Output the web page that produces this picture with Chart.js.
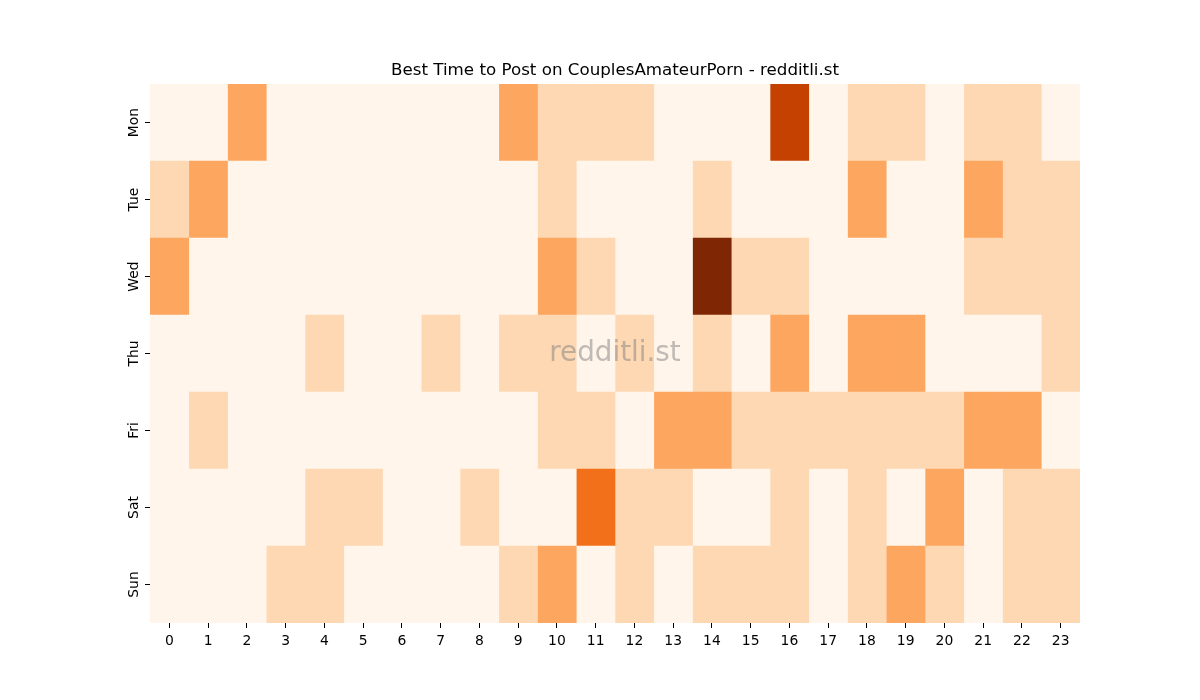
<!DOCTYPE html>
<html>
<head>
<meta charset="utf-8">
<script src="https://cdn.jsdelivr.net/npm/chart.js@4.4.1/dist/chart.umd.min.js"></script>
<style>
  html, body { margin: 0; padding: 0; background: #fff; }
  #wrap { width: 1200px; height: 700px; }
</style>
</head>
<body>
<div id="wrap"><canvas id="heat"></canvas></div>
<script>
// HEATMAP DATA - rows are weekdays, columns are hours
const days = ['Mon', 'Tue', 'Wed', 'Thu', 'Fri', 'Sat', 'Sun'];
const hours = ['0','1','2','3','4','5','6','7','8','9','10','11','12','13','14','15','16','17','18','19','20','21','22','23'];

const mon = [0,0,2,0,0,0,0,0,0,2,1,1,1,0,0,0,4,0,1,1,0,1,1,0];
const tue = [1,2,0,0,0,0,0,0,0,0,1,0,0,0,1,0,0,0,2,0,0,2,1,1];
const wed = [2,0,0,0,0,0,0,0,0,0,2,1,0,0,5,1,1,0,0,0,0,1,1,1];
const thu = [0,0,0,0,1,0,0,1,0,1,1,0,1,0,1,0,2,0,2,2,0,0,0,1];
const fri = [0,1,0,0,0,0,0,0,0,0,1,1,0,2,2,1,1,1,1,1,1,2,2,0];
const sat = [0,0,0,0,1,1,0,0,1,0,0,3,1,1,0,0,1,0,1,0,2,0,1,1];
const sun = [0,0,0,1,1,0,0,0,0,1,2,0,1,0,1,1,1,0,1,2,1,0,1,1];
const grid = [mon, tue, wed, thu, fri, sat, sun];

// oranges colour ramp, one step per count
const shades = ['#fff5eb', '#fdd8b3', '#fda660', '#f3701b', '#c54102', '#7f2704'];

// one floating bar dataset per hour column
const datasets = hours.map((h, col) => ({
    label: h,
    data: days.map(() => [col, col + 1]),
    backgroundColor: grid.map(row => shades[row[col]]),
    borderWidth: 0,
    barPercentage: 1,
    categoryPercentage: 1,
    grouped: false
}));

// watermark + rotated weekday labels
const extras = {
    id: 'extras',
    afterDraw(chart) {
        const ctx = chart.ctx;
        const area = chart.chartArea;
        const y = chart.scales.y;
        ctx.save();
        ctx.font = '13.9px "DejaVu Sans"';
        ctx.fillStyle = '#000';
        ctx.textAlign = 'center';
        ctx.textBaseline = 'bottom';
        days.forEach((d, i) => {
            const py = y.getPixelForValue(i);
            ctx.save();
            ctx.translate(area.left - 9, py);
            ctx.rotate(-Math.PI / 2);
            ctx.fillText(d, 0, 0);
            ctx.restore();
        });
        ctx.font = '27.8px "DejaVu Sans"';
        ctx.fillStyle = 'rgba(128,128,128,0.5)';
        ctx.textBaseline = 'middle';
        ctx.fillText('redditli.st', (area.left + area.right) / 2, (area.top + area.bottom) / 2);
        ctx.restore();
    }
};

new Chart(document.getElementById('heat'), {
    type: 'bar',
    data: { labels: days, datasets: datasets },
    plugins: [extras],
    options: {
        indexAxis: 'y',
        responsive: true,
        maintainAspectRatio: false,
        animation: false,
        layout: { padding: { left: 0, right: 120, top: 0, bottom: 0 } },
        plugins: {
            legend: { display: false },
            tooltip: { enabled: false },
            title: {
                display: true,
                fullSize: false,
                text: 'Best Time to Post on CouplesAmateurPorn - redditli.st',
                color: '#000',
                font: { family: 'DejaVu Sans', size: 16.7, weight: 'normal', lineHeight: 1.2 },
                padding: { top: 61, bottom: 3 }
            }
        },
        scales: {
            x: {
                type: 'linear',
                min: 0,
                max: 24,
                afterBuildTicks: axis => { axis.ticks = hours.map((h, i) => ({ value: i + 0.5 })); },
                afterFit: axis => { axis.height = 77; },
                ticks: {
                    color: '#000',
                    padding: 5,
                    maxRotation: 0,
                    font: { family: 'DejaVu Sans', size: 13.9 },
                    callback: (v, i) => hours[i]
                },
                grid: { drawOnChartArea: false, drawTicks: true, tickLength: 5, color: '#000' },
                border: { display: false }
            },
            y: {
                type: 'category',
                afterFit: axis => { axis.width = 150; },
                ticks: { display: false },
                grid: { drawOnChartArea: false, drawTicks: true, tickLength: 5, color: '#000', offset: false },
                border: { display: false }
            }
        }
    }
});
</script>
</body>
</html>
